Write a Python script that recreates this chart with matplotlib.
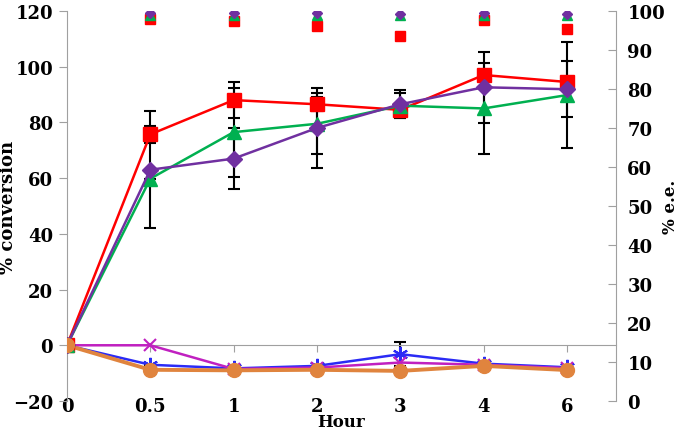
import matplotlib
matplotlib.use("Agg")
import matplotlib.pyplot as plt
import numpy as np

hours = ['0', '0.5', '1', '2', '3', '4', '6']

# % conversion (left axis)
conv_red = [0, 75.7, 88.0, 86.5, 84.5, 97.0, 94.5]
err_red = [0, 3.0, 6.5, 2.5, 1.0, 0.0, 0.0]
conv_green = [0, 59.8, 76.5, 79.5, 86.0, 85.0, 89.8]
err_green = [0, 0.0, 16.0, 11.0, 4.5, 16.3, 19.0]
conv_purple = [0, 63.0, 67.0, 78.0, 86.5, 92.6, 91.9]
err_purple = [0, 21.0, 11.0, 14.5, 5.0, 12.7, 10.0]
conv_blue = [0, -7.0, -8.3, -7.4, -3.2, -6.6, -7.9]
err_blue = [0, 0, 0, 0, 4.4, 0, 0]
conv_magenta = [0, 0.0, -8.5, -8.0, -6.2, -7.0, -8.2]
conv_orange = [0, -8.8, -9.0, -8.8, -9.2, -7.4, -8.9]

# % e.e. (right axis)
ee_x = ['0.5', '1', '2', '3', '4', '6']
ee_purple = [99.5, 99.5, 99.5, 99.3, 99.5, 99.3]
ee_green = [99.0, 99.0, 99.0, 99.0, 99.0, 99.0]
ee_red = [98.0, 97.3, 96.2, 93.7, 97.7, 95.4]

plt.rcParams['font.family'] = ['DejaVu Serif']
plt.rcParams['font.weight'] = 'bold'

fig = plt.figure(figsize=(6.78, 4.31), dpi=100)
ax = fig.add_axes([0.0988, 0.0673, 0.81, 0.905])
x = np.arange(len(hours))
xpos = {h: i for i, h in enumerate(hours)}
xe = [xpos[h] for h in ee_x]

RED = '#FF0000'
GREEN = '#00B050'
PURPLE = '#7030A0'
BLUE = '#2B2BF5'
MAGENTA = '#C020C0'
ORANGE = '#E0843E'

ekw = dict(fmt='none', ecolor='black', elinewidth=1.5, capsize=4, capthick=1.5, zorder=2)
ax.errorbar(x, conv_blue, yerr=err_blue, **ekw)
ax.errorbar(x, conv_red, yerr=err_red, **ekw)
ax.errorbar(x, conv_green, yerr=err_green, **ekw)
ax.errorbar(x, conv_purple, yerr=err_purple, **ekw)

ax.plot(x, conv_blue, color=BLUE, lw=1.8, marker=(6, 2, 0), ms=11, mew=1.5, zorder=3)
ax.plot(x, conv_magenta, color=MAGENTA, lw=1.8, marker='x', ms=8, mew=1.5, zorder=3)
ax.plot(x, conv_orange, color=ORANGE, lw=2.8, marker='o', ms=10, zorder=4)
ax.plot(x, conv_red, color=RED, lw=1.8, marker='s', ms=10, zorder=5)
ax.plot(x, conv_green, color=GREEN, lw=1.8, marker='^', ms=10, zorder=5)
ax.plot(x, conv_purple, color=PURPLE, lw=1.8, marker='D', ms=8.5, zorder=6)
ax.plot(x[:1], conv_orange[:1], color=ORANGE, marker='o', ms=10, ls='none', zorder=7)

ax.set_xlim(0, 6.59)
ax.set_ylim(-20, 120)
ax.set_yticks(np.arange(-20, 121, 20))
ax.set_xticks(x)
ax.set_xticklabels(hours)

for s in ['top', 'right']:
    ax.spines[s].set_visible(False)
ax.spines['left'].set_color('#A0A0A0')
ax.spines['bottom'].set_color('#A0A0A0')
ax.spines['bottom'].set_position(('data', 0))
ax.tick_params(axis='y', direction='out', length=6, color='#A0A0A0', labelsize=13, pad=4)
ax.tick_params(axis='x', direction='out', length=5, color='#A0A0A0', labelsize=13, pad=32)
ax.set_ylabel('% conversion', fontsize=13, fontweight='bold')
ax.yaxis.set_label_coords(-0.091, 0.5)
ax.set_xlabel('Hour', fontsize=12, fontweight='bold')
ax.xaxis.set_label_coords(0.5, -0.03)

ax2 = ax.twinx()
ax2.set_ylim(0, 100)
ax2.set_yticks(np.arange(0, 101, 10))
for s in ['top', 'left', 'bottom']:
    ax2.spines[s].set_visible(False)
ax2.spines['right'].set_color('#A0A0A0')
ax2.tick_params(axis='y', direction='in', length=6, color='#A0A0A0', labelsize=13, pad=8)
ax2.plot(xe, ee_red, ls='none', marker='s', ms=6.5, color=RED, zorder=3)
ax2.plot(xe, ee_green, ls='none', marker='^', ms=6.5, color=GREEN, zorder=4)
ax2.plot(xe, ee_purple, ls='none', marker='D', ms=5.5, color=PURPLE, zorder=5)
ax2.set_ylabel('% e.e.', fontsize=12, fontweight='bold', rotation=90)
ax2.yaxis.set_label_coords(1.083, 0.5)

fig.savefig('out.png', dpi=100)
